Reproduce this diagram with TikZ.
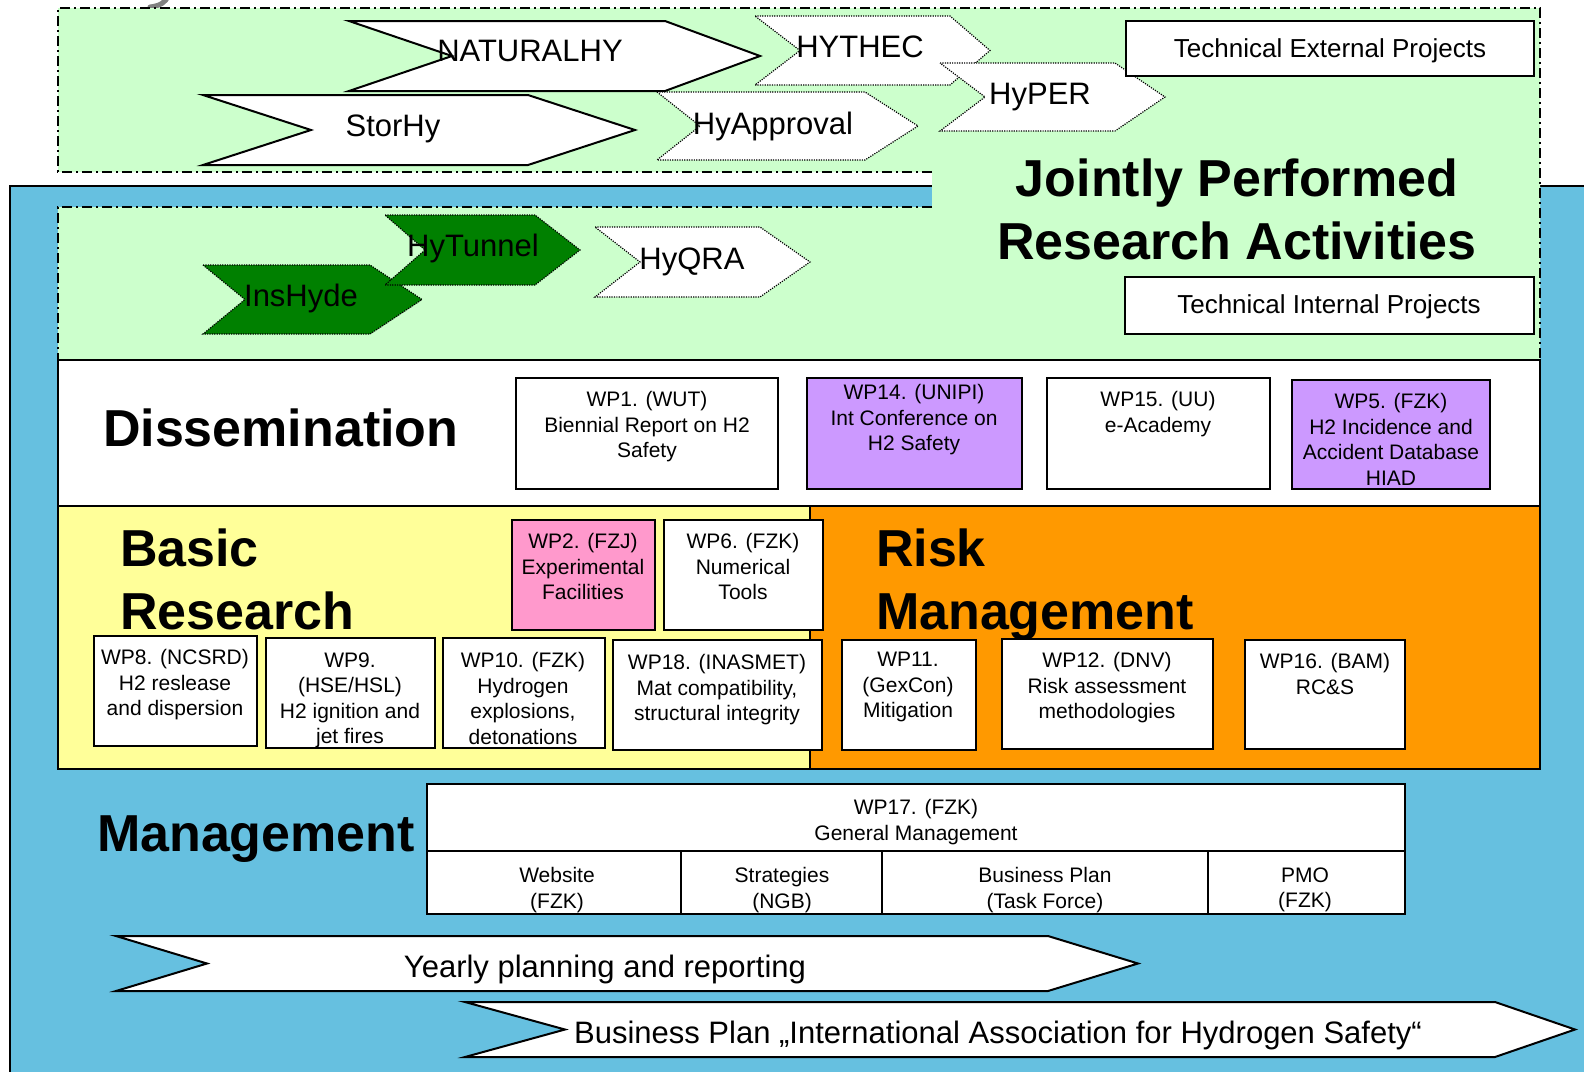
\documentclass[tikz,border=0pt]{standalone}
\usepackage{fontspec}
\setmainfont{Liberation Sans}
\definecolor{bgblue}{RGB}{102,192,224}
\definecolor{lgreen}{RGB}{204,255,204}
\definecolor{dgreen}{RGB}{0,128,0}
\definecolor{lyellow}{RGB}{255,255,153}
\definecolor{orng}{RGB}{255,153,0}
\definecolor{lpurple}{RGB}{204,153,255}
\definecolor{lpink}{RGB}{255,153,204}
\tikzset{
  lbl/.style={inner sep=0pt, outer sep=0pt},
  wpt/.style={inner sep=0pt, outer sep=0pt, align=center, font=\fontsize{10.5}{12.75}\selectfont},
  bigt/.style={inner sep=0pt, outer sep=0pt, align=left, font=\fontsize{26}{31.5}\selectfont\bfseries},
  chevt/.style={inner sep=0pt, outer sep=0pt, font=\fontsize{15.5}{18}\selectfont},
  smallt/.style={inner sep=0pt, outer sep=0pt, font=\fontsize{13}{15}\selectfont},
  box/.style={draw=black, line width=1pt, inner sep=0pt, outer sep=0pt},
  dashdot/.style={line width=0.8pt, dash pattern=on 5pt off 2pt on 1pt off 2pt},
  dotline/.style={draw=black, line width=0.6pt, dash pattern=on 0.6pt off 0.6pt},
  solidchev/.style={draw=black, fill=white, line width=1pt, line join=miter},
  dotchev/.style={dotline, fill=white},
  greenchev/.style={dotline, fill=dgreen},
}
% name-free chevron: L, notch x, top, bottom, body end, tip, style
\newcommand\mychev[7]{%
  \path[#7] (#1,#3) -- (#5,#3) -- (#6,{(#3+#4)/2}) -- (#5,#4) -- (#1,#4) -- (#2,{(#3+#4)/2}) -- cycle;}
\newcommand\wpbox[6]{%
  \node[box, fill=#6, anchor=north west, minimum width={(#4-#2)*0.5pt}, minimum height={(#5-#3)*0.5pt}] (#1) at (#2,#3) {};}
\newcommand\wpt[4]{%
  \node[wpt, anchor=north] (#1) at (#2,{#3-7.5}) {#4};}
\begin{document}
\begin{tikzpicture}[x=0.5pt,y=-0.5pt]
\clip (0,0) rectangle (1584,1071);
\fill[white] (0,0) rectangle (1584,1071);
% small grey remnant at the top
\draw[gray, line width=2.5pt, line cap=round] (150,7) .. controls (160,6) and (166,2) .. (168,-4);
% blue background
\draw[fill=bgblue, line width=0.8pt] (10,186) rectangle (1620,1100);
% green "jointly performed" area
\fill[lgreen] (58,8) -- (1540,8) -- (1540,360) -- (58,360) -- (58,207) -- (932,207) -- (932,172) -- (58,172) -- cycle;
\draw[dashdot] (932,172) -- (58,172) -- (58,8) -- (1540,8) -- (1540,360);
\draw[dashdot] (932,207) -- (58,207) -- (58,360);

% internal projects chevrons
\mychev{203}{245}{265}{334}{370}{422}{greenchev}
\mychev{385}{425}{215}{285}{535}{580}{greenchev}
\mychev{595}{640}{227}{297}{760}{810}{dotchev}
\node[chevt, anchor=base] (hytunnel) at (473,256) {HyTunnel};
\node[chevt, anchor=base] (inshyde) at (301,306) {InsHyde};
\node[chevt, anchor=base] (hyqra) at (692,269) {HyQRA};

% external projects chevrons
\mychev{349}{452}{21}{91}{665}{760}{solidchev}
\mychev{203}{311}{95}{165}{528}{635}{solidchev}
\mychev{755}{800}{16}{85}{950}{990}{dotchev}
\mychev{657}{700}{92}{160}{865}{918}{dotchev}
\mychev{940}{985}{63}{131}{1115}{1165}{dotchev}
\node[chevt, anchor=base] (naturalhy) at (530,61) {NATURALHY};
\node[chevt, anchor=base] (storhy) at (393,136) {StorHy};
\node[chevt, anchor=base] (hythec) at (860,57) {HYTHEC};
\node[chevt, anchor=base] (hyapproval) at (773,134) {HyApproval};
\node[chevt, anchor=base] (hyper) at (1040,104) {HyPER};

% label boxes
\wpbox{extbox}{1126}{21}{1534}{76}{white}
\node[smallt, anchor=base] (ext) at (1330,57) {Technical External Projects};
\wpbox{intbox}{1125}{277}{1534}{334}{white}
\node[smallt, anchor=base] (int) at (1329,313) {Technical Internal Projects};
\node[bigt, align=center, anchor=north] (jpra) at (1237,159) {Jointly Performed\\Research Activities};

% dissemination
\wpbox{diss}{58}{360}{1540}{506}{white}
\node[bigt, anchor=base west] (disst) at (103,446) {Dissemination};
\wpbox{wp1}{516}{378}{778}{489}{white}
\wpt{wp1t}{647}{399}{WP1. (WUT)\\Biennial Report on H2\\Safety}
\wpbox{wp14}{807}{378}{1022}{489}{lpurple}
\wpt{wp14t}{914}{392}{WP14. (UNIPI)\\Int Conference on\\H2 Safety}
\wpbox{wp15}{1047}{378}{1270}{489}{white}
\wpt{wp15t}{1158}{399}{WP15. (UU)\\e-Academy}
\wpbox{wp5}{1292}{380}{1490}{489}{lpurple}
\wpt{wp5t}{1391}{401}{WP5. (FZK)\\H2 Incidence and\\Accident Database\\HIAD}

% basic research / risk management
\wpbox{basic}{58}{506}{810}{769}{lyellow}
\wpbox{risk}{810}{506}{1540}{769}{orng}
\node[bigt, anchor=north west] (basict) at (120,528.5) {Basic\\Research};
\node[bigt, anchor=north west] (riskt) at (876,529) {Risk\\Management};
\wpbox{wp2}{512}{520}{655}{630}{lpink}
\wpt{wp2t}{583}{541}{WP2. (FZJ)\\Experimental\\Facilities}
\wpbox{wp6}{664}{520}{823}{630}{white}
\wpt{wp6t}{743}{541}{WP6. (FZK)\\Numerical\\Tools}
\wpbox{wp8}{94}{636}{257}{746}{white}
\wpt{wp8t}{175}{657}{WP8. (NCSRD)\\H2 reslease\\and dispersion}
\wpbox{wp9}{266}{638}{435}{748}{white}
\wpt{wp9t}{350}{660}{WP9.\\(HSE/HSL)\\H2 ignition and\\jet fires}
\wpbox{wp10}{443}{638}{605}{748}{white}
\wpt{wp10t}{523}{660}{WP10. (FZK)\\Hydrogen\\explosions,\\detonations}
\wpbox{wp18}{613}{640}{822}{750}{white}
\wpt{wp18t}{717}{662}{WP18. (INASMET)\\Mat compatibility,\\structural integrity}
\wpbox{wp11}{842}{640}{976}{750}{white}
\wpt{wp11t}{908}{660}{WP11.\\(GexCon)\\Mitigation}
\wpbox{wp12}{1002}{639}{1213}{749}{white}
\wpt{wp12t}{1107}{660}{WP12. (DNV)\\Risk assessment\\methodologies}
\wpbox{wp16}{1245}{640}{1405}{749}{white}
\wpt{wp16t}{1325}{661}{WP16. (BAM)\\RC\&S}

% management
\node[bigt, anchor=base west] (mgmt) at (97,851.5) {Management};
\wpbox{wp17}{427}{784}{1405}{851}{white}
\wpt{wp17t}{916}{807}{WP17. (FZK)\\General Management}
\wpbox{web}{427}{851}{681}{914}{white}
\wpt{webt}{557}{875}{Website\\(FZK)}
\wpbox{strat}{681}{851}{882}{914}{white}
\wpt{stratt}{782}{875}{Strategies\\(NGB)}
\wpbox{bplan}{882}{851}{1208}{914}{white}
\wpt{bplant}{1045}{875}{Business Plan\\(Task Force)}
\wpbox{pmo}{1208}{851}{1405}{914}{white}
\wpt{pmot}{1305}{875}{PMO\\(FZK)}

% bottom arrows
\mychev{116}{207}{936}{991}{1048}{1138}{solidchev}
\node[chevt, anchor=base] (yearly) at (605,977) {Yearly planning and reporting};
\mychev{465}{565}{1002}{1057}{1495}{1575}{solidchev}
\node[chevt, anchor=base] (bizplan) at (998,1043) {Business Plan „International Association for Hydrogen Safety“};
\end{tikzpicture}
\end{document}
